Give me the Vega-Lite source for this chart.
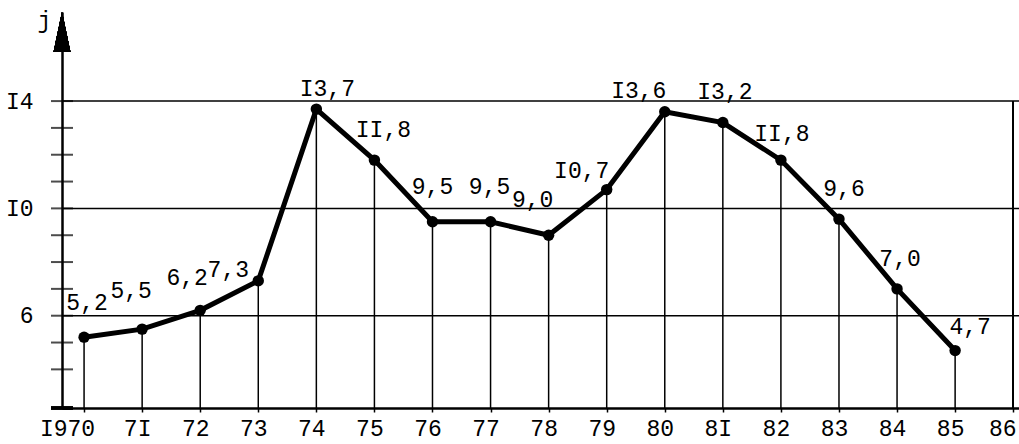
{
  "$schema": "https://vega.github.io/schema/vega-lite/v6.json",
  "width": 957,
  "height": 396,
  "autosize": "none",
  "padding": {"left": 62, "top": 12, "right": 0, "bottom": 36},
  "background": "white",
  "config": {
    "view": {"stroke": null},
    "font": "Liberation Mono",
    "text": {"font": "Liberation Mono", "fontSize": 23, "color": "black", "align": "center", "baseline": "middle"}
  },
  "datasets": {
    "series": [
      {"year": 1970, "value": 5.2, "label": "5,2"},
      {"year": 1971, "value": 5.5, "label": "5,5"},
      {"year": 1972, "value": 6.2, "label": "6,2"},
      {"year": 1973, "value": 7.3, "label": "7,3"},
      {"year": 1974, "value": 13.7, "label": "I3,7"},
      {"year": 1975, "value": 11.8, "label": "II,8"},
      {"year": 1976, "value": 9.5, "label": "9,5"},
      {"year": 1977, "value": 9.5, "label": "9,5"},
      {"year": 1978, "value": 9.0, "label": "9,0"},
      {"year": 1979, "value": 10.7, "label": "I0,7"},
      {"year": 1980, "value": 13.6, "label": "I3,6"},
      {"year": 1981, "value": 13.2, "label": "I3,2"},
      {"year": 1982, "value": 11.8, "label": "II,8"},
      {"year": 1983, "value": 9.6, "label": "9,6"},
      {"year": 1984, "value": 7.0, "label": "7,0"},
      {"year": 1985, "value": 4.7, "label": "4,7"}
    ],
    "yticks": [
      {"v": 4}, {"v": 5}, {"v": 6}, {"v": 7}, {"v": 8}, {"v": 9},
      {"v": 10}, {"v": 11}, {"v": 12}, {"v": 13}, {"v": 14}
    ],
    "grid": [{"v": 6}, {"v": 10}, {"v": 14}]
  },
  "data": {"name": "series"},
  "layer": [
    {
      "data": {"name": "grid"},
      "mark": {"type": "rule", "color": "black", "strokeWidth": 1.5},
      "encoding": {
        "y": {"field": "v", "type": "quantitative", "scale": {"domain": [2.56, 17.32], "nice": false, "zero": false},
          "axis": {
            "title": "j", "titleAngle": 0, "titleX": -18, "titleY": 8, "titleAlign": "center", "titleBaseline": "middle",
            "titleFont": "Liberation Mono", "titleFontSize": 23, "titleFontWeight": "normal", "titleColor": "black",
            "values": [6, 10, 14],
            "labelExpr": "replace(toString(datum.value), '1', 'I')",
            "labelFont": "Liberation Mono", "labelFontSize": 23, "labelColor": "black",
            "ticks": false, "tickSize": 0, "labelPadding": 29,
            "domain": true, "domainColor": "black", "domainWidth": 2.5, "grid": false
          }}
      }
    },
    {
      "data": {"name": "yticks"},
      "mark": {"type": "tick", "orient": "horizontal", "color": "black", "size": 22, "thickness": 2},
      "encoding": {
        "x": {"datum": 1969.62, "type": "quantitative", "scale": {"domain": [1969.62, 1986.1], "nice": false, "zero": false}},
        "y": {"field": "v", "type": "quantitative", "scale": {"domain": [2.56, 17.32], "nice": false, "zero": false}}
      }
    },
    {
      "mark": {"type": "tick", "orient": "horizontal", "color": "black", "size": 22, "thickness": 2.5},
      "encoding": {
        "x": {"datum": 1969.62, "type": "quantitative", "scale": {"domain": [1969.62, 1986.1], "nice": false, "zero": false}},
        "y": {"datum": 2.56, "type": "quantitative", "scale": {"domain": [2.56, 17.32], "nice": false, "zero": false}}
      }
    },
    {
      "mark": {"type": "rule", "color": "black", "strokeWidth": 1.5},
      "encoding": {
        "x": {"field": "year", "type": "quantitative", "scale": {"domain": [1969.62, 1986.1], "nice": false, "zero": false},
          "axis": {
            "title": null,
            "values": [1970, 1971, 1972, 1973, 1974, 1975, 1976, 1977, 1978, 1979, 1980, 1981, 1982, 1983, 1984, 1985, 1986],
            "labelExpr": "datum.value == 1970 ? 'I970' : replace(slice(toString(datum.value), 2), '1', 'I')",
            "labelFont": "Liberation Mono", "labelFontSize": 23, "labelColor": "black",
            "labelOffset": {"condition": [{"test": "datum.value == 1970", "value": -17}, {"test": "datum.value == 1986", "value": -11}], "value": -5},
            "labelOverlap": false, "labelFlush": false, "labelBound": false,
            "tickSize": 4, "tickColor": "black", "tickWidth": 1.5, "labelPadding": 5,
            "domain": true, "domainColor": "black", "domainWidth": 2.5, "grid": false
          }},
        "y": {"field": "value", "type": "quantitative", "scale": {"domain": [2.56, 17.32], "nice": false, "zero": false}},
        "y2": {"datum": 2.56}
      }
    },
    {
      "mark": {"type": "rule", "color": "black", "strokeWidth": 1.5},
      "encoding": {
        "x": {"datum": 1986, "type": "quantitative", "scale": {"domain": [1969.62, 1986.1], "nice": false, "zero": false}},
        "y": {"datum": 14, "type": "quantitative", "scale": {"domain": [2.56, 17.32], "nice": false, "zero": false}},
        "y2": {"datum": 2.56}
      }
    },
    {
      "mark": {"type": "line", "color": "black", "strokeWidth": 5},
      "encoding": {
        "x": {"field": "year", "type": "quantitative", "scale": {"domain": [1969.62, 1986.1], "nice": false, "zero": false}},
        "y": {"field": "value", "type": "quantitative", "scale": {"domain": [2.56, 17.32], "nice": false, "zero": false}}
      }
    },
    {
      "mark": {"type": "point", "filled": true, "color": "black", "opacity": 1, "size": 130},
      "encoding": {
        "x": {"field": "year", "type": "quantitative", "scale": {"domain": [1969.62, 1986.1], "nice": false, "zero": false}},
        "y": {"field": "value", "type": "quantitative", "scale": {"domain": [2.56, 17.32], "nice": false, "zero": false}}
      }
    },
    {
      "mark": {"type": "point", "filled": true, "color": "black", "opacity": 1, "size": 1600, "shape": "M0,0L0.42,2L-0.42,2Z", "strokeWidth": 0},
      "encoding": {
        "x": {"datum": 1969.62, "type": "quantitative", "scale": {"domain": [1969.62, 1986.1], "nice": false, "zero": false}},
        "y": {"datum": 17.32, "type": "quantitative", "scale": {"domain": [2.56, 17.32], "nice": false, "zero": false}}
      }
    },
    {"transform": [{"filter": "datum.year == 1970"}], "mark": {"type": "text", "dx": 3, "dy": -34},
     "encoding": {"x": {"field": "year", "type": "quantitative"}, "y": {"field": "value", "type": "quantitative"}, "text": {"field": "label"}}},
    {"transform": [{"filter": "datum.year == 1971"}], "mark": {"type": "text", "dx": -11, "dy": -38},
     "encoding": {"x": {"field": "year", "type": "quantitative"}, "y": {"field": "value", "type": "quantitative"}, "text": {"field": "label"}}},
    {"transform": [{"filter": "datum.year == 1972"}], "mark": {"type": "text", "dx": -13, "dy": -32},
     "encoding": {"x": {"field": "year", "type": "quantitative"}, "y": {"field": "value", "type": "quantitative"}, "text": {"field": "label"}}},
    {"transform": [{"filter": "datum.year == 1973"}], "mark": {"type": "text", "dx": -30, "dy": -11},
     "encoding": {"x": {"field": "year", "type": "quantitative"}, "y": {"field": "value", "type": "quantitative"}, "text": {"field": "label"}}},
    {"transform": [{"filter": "datum.year == 1974"}], "mark": {"type": "text", "dx": 11, "dy": -20},
     "encoding": {"x": {"field": "year", "type": "quantitative"}, "y": {"field": "value", "type": "quantitative"}, "text": {"field": "label"}}},
    {"transform": [{"filter": "datum.year == 1975"}], "mark": {"type": "text", "dx": 9, "dy": -30},
     "encoding": {"x": {"field": "year", "type": "quantitative"}, "y": {"field": "value", "type": "quantitative"}, "text": {"field": "label"}}},
    {"transform": [{"filter": "datum.year == 1976"}], "mark": {"type": "text", "dx": 0, "dy": -35},
     "encoding": {"x": {"field": "year", "type": "quantitative"}, "y": {"field": "value", "type": "quantitative"}, "text": {"field": "label"}}},
    {"transform": [{"filter": "datum.year == 1977"}], "mark": {"type": "text", "dx": -1, "dy": -35},
     "encoding": {"x": {"field": "year", "type": "quantitative"}, "y": {"field": "value", "type": "quantitative"}, "text": {"field": "label"}}},
    {"transform": [{"filter": "datum.year == 1978"}], "mark": {"type": "text", "dx": -16, "dy": -35},
     "encoding": {"x": {"field": "year", "type": "quantitative"}, "y": {"field": "value", "type": "quantitative"}, "text": {"field": "label"}}},
    {"transform": [{"filter": "datum.year == 1979"}], "mark": {"type": "text", "dx": -25, "dy": -19},
     "encoding": {"x": {"field": "year", "type": "quantitative"}, "y": {"field": "value", "type": "quantitative"}, "text": {"field": "label"}}},
    {"transform": [{"filter": "datum.year == 1980"}], "mark": {"type": "text", "dx": -26, "dy": -21},
     "encoding": {"x": {"field": "year", "type": "quantitative"}, "y": {"field": "value", "type": "quantitative"}, "text": {"field": "label"}}},
    {"transform": [{"filter": "datum.year == 1981"}], "mark": {"type": "text", "dx": 2, "dy": -31},
     "encoding": {"x": {"field": "year", "type": "quantitative"}, "y": {"field": "value", "type": "quantitative"}, "text": {"field": "label"}}},
    {"transform": [{"filter": "datum.year == 1982"}], "mark": {"type": "text", "dx": 1, "dy": -26},
     "encoding": {"x": {"field": "year", "type": "quantitative"}, "y": {"field": "value", "type": "quantitative"}, "text": {"field": "label"}}},
    {"transform": [{"filter": "datum.year == 1983"}], "mark": {"type": "text", "dx": 5, "dy": -30},
     "encoding": {"x": {"field": "year", "type": "quantitative"}, "y": {"field": "value", "type": "quantitative"}, "text": {"field": "label"}}},
    {"transform": [{"filter": "datum.year == 1984"}], "mark": {"type": "text", "dx": 3, "dy": -30},
     "encoding": {"x": {"field": "year", "type": "quantitative"}, "y": {"field": "value", "type": "quantitative"}, "text": {"field": "label"}}},
    {"transform": [{"filter": "datum.year == 1985"}], "mark": {"type": "text", "dx": 15, "dy": -24},
     "encoding": {"x": {"field": "year", "type": "quantitative"}, "y": {"field": "value", "type": "quantitative"}, "text": {"field": "label"}}}
  ]
}
